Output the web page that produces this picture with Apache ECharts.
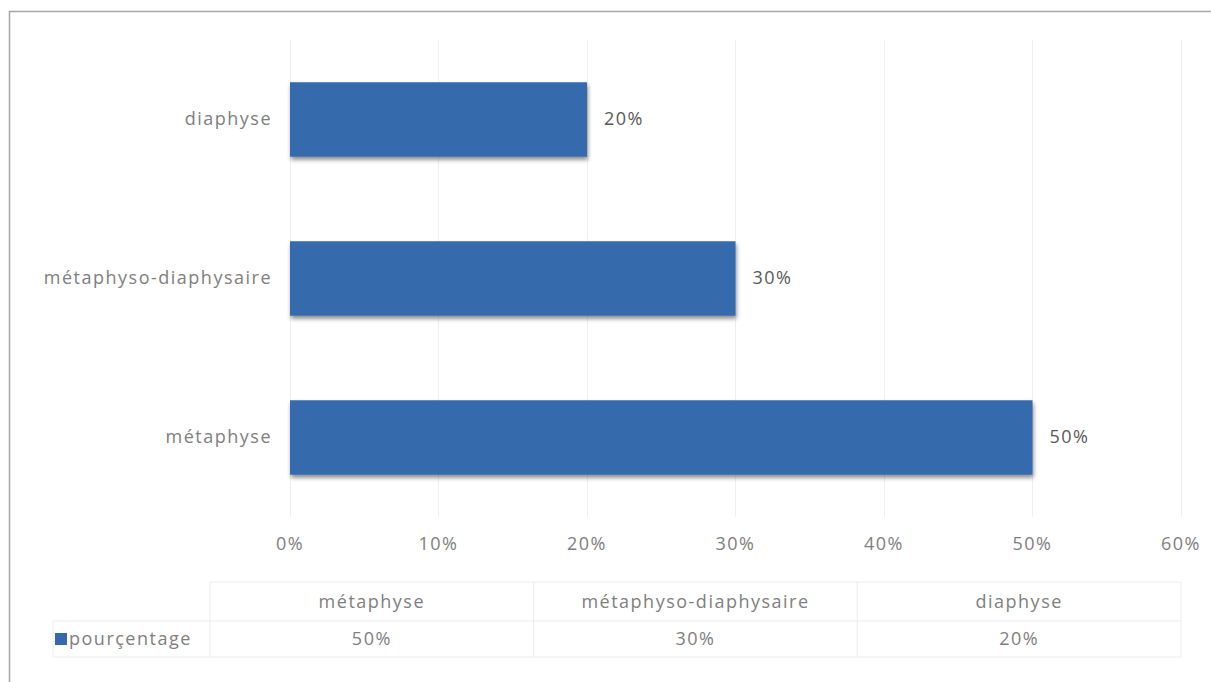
<!DOCTYPE html>
<html>
<head>
<meta charset="utf-8">
<script src="https://cdn.jsdelivr.net/npm/echarts@6/dist/echarts.min.js"></script>
<style>
html,body{margin:0;padding:0;background:#fff;}
#c{width:1211px;height:682px;}
#c svg text{letter-spacing:1.5px;}
</style>
</head>
<body>
<div id="c"></div>
<script>
var categories = ['métaphyse', 'métaphyso-diaphysaire', 'diaphyse'];
var seriesName = 'pourçentage';
var values = [50, 30, 20];
var tickValues = [0, 10, 20, 30, 40, 50, 60];

var FONT = 'Open Sans';
var FS = 18;
var chart = echarts.init(document.getElementById('c'), null, {renderer: 'svg'});

// table layout
var tblLeft = 210, tblRight = 1181, rowTop = 582, rowMid = 621, rowBot = 657, legLeft = 53;
var colW = (tblRight - tblLeft) / categories.length;
var lineColor = '#ececec';
var txtColor = '#808080';
var fontStr = FS + 'px "' + FONT + '"';
var g = [];
g.push({type: 'rect', shape: {x: 9.5, y: 11.5, width: 1210, height: 680}, style: {fill: 'none', stroke: '#a6a6a6', lineWidth: 1.5}, silent: true});
g.push({type: 'line', shape: {x1: tblLeft, y1: rowTop, x2: tblRight, y2: rowTop}, style: {stroke: lineColor, lineWidth: 1}});
g.push({type: 'line', shape: {x1: legLeft, y1: rowMid, x2: tblRight, y2: rowMid}, style: {stroke: lineColor, lineWidth: 1}});
g.push({type: 'line', shape: {x1: legLeft, y1: rowBot, x2: tblRight, y2: rowBot}, style: {stroke: lineColor, lineWidth: 1}});
g.push({type: 'line', shape: {x1: legLeft, y1: rowMid, x2: legLeft, y2: rowBot}, style: {stroke: lineColor, lineWidth: 1}});
for (var i = 0; i <= categories.length; i++) {
  var x = tblLeft + i * colW;
  g.push({type: 'line', shape: {x1: x, y1: rowTop, x2: x, y2: rowBot}, style: {stroke: lineColor, lineWidth: 1}});
}
categories.forEach(function (c, i) {
  var cx = tblLeft + (i + 0.5) * colW;
  g.push({type: 'text', x: cx, y: (rowTop + rowMid) / 2 - 1, style: {text: c, fill: txtColor, font: fontStr, align: 'center', verticalAlign: 'middle'}});
  g.push({type: 'text', x: cx, y: (rowMid + rowBot) / 2 - 1.5, style: {text: values[i] + '%', fill: txtColor, font: fontStr, align: 'center', verticalAlign: 'middle'}});
});
g.push({type: 'rect', shape: {x: 55, y: 633, width: 12, height: 12}, style: {fill: '#346aac'}});
g.push({type: 'text', x: 69, y: (rowMid + rowBot) / 2 - 1.5, style: {text: seriesName, fill: txtColor, font: fontStr, align: 'left', verticalAlign: 'middle'}});

chart.setOption({
  animation: false,
  backgroundColor: '#fff',
  grid: {left: 290, right: 30, top: 40, bottom: 165, containLabel: false},
  xAxis: {
    type: 'value', min: tickValues[0], max: tickValues[tickValues.length - 1], interval: 10,
    axisLine: {show: false}, axisTick: {show: false},
    splitLine: {show: true, lineStyle: {color: '#efefef', width: 1}},
    axisLabel: {formatter: '{value}%', color: txtColor, fontFamily: FONT, fontSize: FS, margin: 17}
  },
  yAxis: {
    type: 'category', data: categories,
    axisLine: {show: false}, axisTick: {show: false},
    axisLabel: {color: txtColor, fontFamily: FONT, fontSize: FS, margin: 18,
      formatter: '{a|{value}}',
      rich: {a: {color: txtColor, fontFamily: FONT, fontSize: FS, padding: [0, 0, 4, 0]}}}
  },
  series: [{
    name: seriesName, type: 'bar', data: values, barCategoryGap: '53%',
    itemStyle: {color: '#346aac', shadowColor: 'rgba(0,0,0,0.45)', shadowBlur: 4, shadowOffsetX: 1, shadowOffsetY: 3},
    label: {show: true, position: 'right', distance: 17, offset: [0, -2], formatter: '{c}%', color: '#595959', fontFamily: FONT, fontSize: FS}
  }],
  graphic: g
});
</script>
</body>
</html>
